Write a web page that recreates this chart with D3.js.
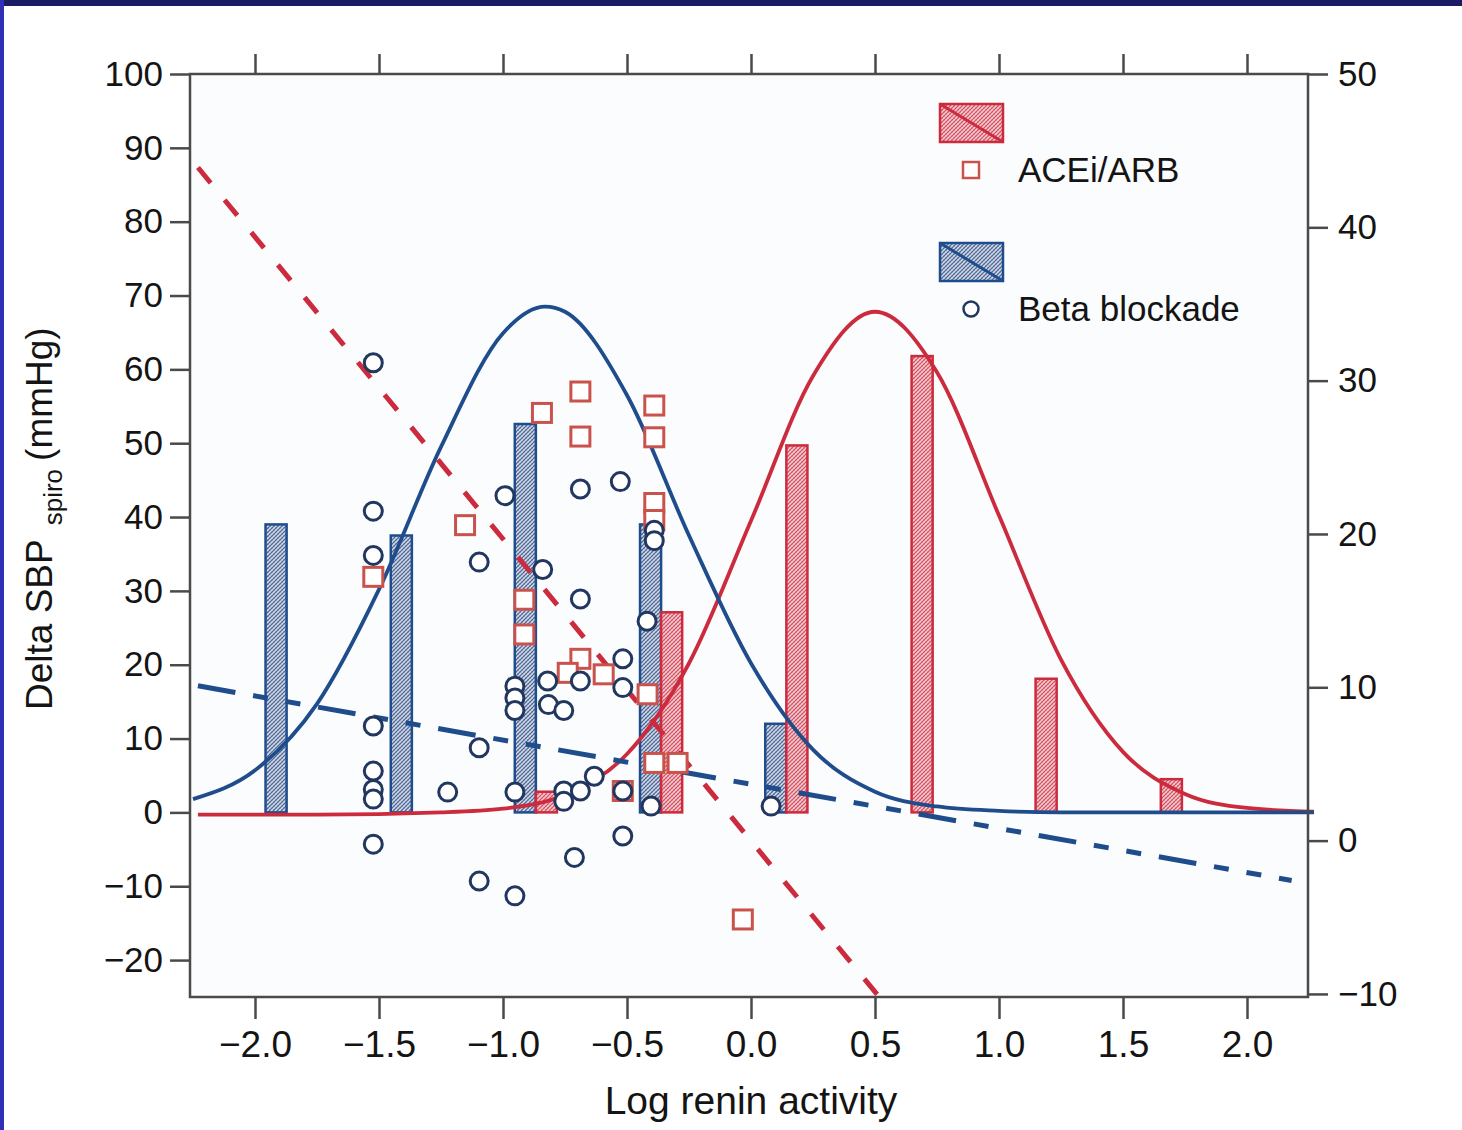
<!DOCTYPE html>
<html lang="en">
<head>
<meta charset="utf-8">
<title>Delta SBP vs log renin activity</title>
<style>
  html, body { margin: 0; padding: 0; background: #fff; }
  svg { display: block; }
  text { font-family: "Liberation Sans", Arial, sans-serif; fill: #141414; }
</style>
</head>
<body>
<svg id="chart" width="1462" height="1130"></svg>

<script src="https://d3js.org/d3.v7.min.js"></script>
<script>
// ---- data ----
const xTicks = [-2.0, -1.5, -1.0, -0.5, 0.0, 0.5, 1.0, 1.5, 2.0];
const leftTicks = [-20, -10, 0, 10, 20, 30, 40, 50, 60, 70, 80, 90, 100];
const rightTicks = [-10, 0, 10, 20, 30, 40, 50];

// histogram bars (left axis units)
const betaBarX = [-1.915, -1.41, -0.91, -0.405, 0.10];
const betaBarH = [39.0, 37.5, 52.6, 39.0, 12.0];
const aceBarX = [-0.825, -0.32, 0.185, 0.69, 1.19, 1.695];
const aceBarH = [2.8, 27.1, 49.7, 61.8, 18.1, 4.5];

// fitted distribution curves (left axis units)
const betaCurveX = [-2.25, -2.0, -1.75, -1.5, -1.25, -1.0, -0.83, -0.75, -0.5, -0.25, 0.0, 0.25, 0.5, 0.75, 1.0, 1.25, 1.5, 2.0, 2.27];
const betaCurveY = [1.8, 5.7, 14.7, 30.2, 49.5, 64.9, 68.5, 67.8, 56.5, 37.5, 20.2, 8.5, 2.8, 0.8, 0.2, 0, 0, 0, 0];
const aceCurveX = [-2.23, -1.75, -1.25, -1.0, -0.75, -0.5, -0.25, 0.0, 0.25, 0.5, 0.75, 1.0, 1.25, 1.5, 1.75, 2.0, 2.27];
const aceCurveY = [-0.3, -0.3, 0, 0.5, 2.4, 7.9, 20.2, 39.5, 59.1, 67.8, 59.6, 40.2, 20.7, 8.2, 2.5, 0.6, 0.1];

// regression lines (right axis units)
const aceFit = [[-2.23, 43.9], [0.512, -10.1]];
const betaFit = [[-2.23, 10.1], [2.18, -2.6]];

// individual patients (left axis units)
const betaPoints = [
  [-1.523, 60.9], [-1.523, 40.8], [-1.523, 34.8], [-1.523, 11.7], [-1.523, 5.6], [-1.523, 3.1], [-1.523, 1.8], [-1.523, -4.3],
  [-1.223, 2.75], [-1.096, 33.9], [-1.096, 8.75], [-1.096, -9.3], [-0.992, 42.9],
  [-0.952, 17.1], [-0.952, 15.5], [-0.952, 13.8], [-0.952, 2.75], [-0.952, -11.3],
  [-0.84, 32.9], [-0.82, 17.8], [-0.817, 14.6], [-0.755, 13.8], [-0.755, 2.9], [-0.755, 1.5],
  [-0.712, -6.1], [-0.688, 43.8], [-0.688, 28.9], [-0.688, 17.8], [-0.688, 2.9], [-0.632, 4.9],
  [-0.527, 44.8], [-0.517, 20.8], [-0.517, 16.9], [-0.517, 2.9], [-0.517, -3.2],
  [-0.419, 25.9], [-0.39, 38.2], [-0.39, 36.8], [-0.403, 0.85], [0.081, 0.85]
];
const acePoints = [
  [-1.523, 31.9], [-1.153, 38.9], [-0.843, 54.1], [-0.914, 28.8], [-0.914, 24.1],
  [-0.688, 57.0], [-0.688, 50.9], [-0.688, 20.8], [-0.739, 18.9], [-0.594, 18.7],
  [-0.39, 55.1], [-0.39, 50.8], [-0.39, 41.9], [-0.39, 39.6], [-0.417, 16.0],
  [-0.39, 6.7], [-0.296, 6.7], [-0.517, 2.9], [-0.033, -14.5]
];

const legendItems = [
  { label: "ACEi/ARB", kind: "ace" },
  { label: "Beta blockade", kind: "beta" }
];

// ---- look ----
const RED = "#cc2b3d", RED_PT = "#c9524d", BLUE = "#1f4d8c", NAVY = "#22375f", AXIS = "#4a4a4a";
const W = 1462, H = 1130;
const plot = { left: 190, right: 1308, top: 74, bottom: 997 };

const svg = d3.select("#chart");

// page border strips
svg.append("rect").attr("x", 0).attr("y", 0).attr("width", W).attr("height", 6).attr("fill", "#1b1b66");
svg.append("rect").attr("x", 0).attr("y", 0).attr("width", 4).attr("height", H).attr("fill", "#2f2fb8");

const x = d3.scaleLinear().domain([-2, 2]).range([255, 1247]);
const yL = d3.scaleLinear().domain([-25, 100]).range([plot.bottom, plot.top]);
const yR = d3.scaleLinear().domain([-10.2, 50]).range([plot.bottom, plot.top]);

// hatch patterns
const defs = svg.append("defs");
function hatch(id, bg, fg) {
  const p = defs.append("pattern").attr("id", id)
    .attr("patternUnits", "userSpaceOnUse").attr("width", 4).attr("height", 4);
  p.append("rect").attr("width", 4).attr("height", 4).attr("fill", bg);
  p.append("path").attr("d", "M-1,1 L1,-1 M0,4 L4,0 M3,5 L5,3").attr("stroke", fg).attr("stroke-width", 1.1);
  p.append("path").attr("d", "M0,0 L4,4").attr("stroke", fg).attr("stroke-width", 0.5).attr("opacity", 0.6);
}
hatch("hatchRed", "#f4cdd2", "#d24a5c");
hatch("hatchBlue", "#d3dae8", "#46608f");

// plot background
svg.append("rect").attr("x", plot.left).attr("y", plot.top)
  .attr("width", plot.right - plot.left).attr("height", plot.bottom - plot.top)
  .attr("fill", "#fbfcfe");

// ---- bars ----
const barW = x(0.085) - x(0);
svg.append("g").selectAll("rect").data(d3.zip(betaBarX, betaBarH)).join("rect")
  .attr("x", d => x(d[0]) - barW / 2).attr("width", barW)
  .attr("y", d => yL(d[1])).attr("height", d => yL(0) - yL(d[1]))
  .attr("fill", "url(#hatchBlue)").attr("stroke", BLUE).attr("stroke-width", 2.5);
svg.append("g").selectAll("rect").data(d3.zip(aceBarX, aceBarH)).join("rect")
  .attr("x", d => x(d[0]) - barW / 2).attr("width", barW)
  .attr("y", d => yL(d[1])).attr("height", d => yL(0) - yL(d[1]))
  .attr("fill", "url(#hatchRed)").attr("stroke", RED).attr("stroke-width", 2.5);

// ---- curves ----
const curve = d3.line().x(d => x(d[0])).y(d => yL(d[1])).curve(d3.curveMonotoneX);
svg.append("path").datum(d3.zip(aceCurveX, aceCurveY)).attr("d", curve)
  .attr("fill", "none").attr("stroke", RED).attr("stroke-width", 3.8);
svg.append("path").datum(d3.zip(betaCurveX, betaCurveY)).attr("d", curve)
  .attr("fill", "none").attr("stroke", BLUE).attr("stroke-width", 3.8);

// ---- regression lines ----
const fitLine = d3.line().x(d => x(d[0])).y(d => yR(d[1]));
svg.append("path").datum(betaFit).attr("d", fitLine)
  .attr("fill", "none").attr("stroke", BLUE).attr("stroke-width", 5)
  .attr("stroke-dasharray", "38,18,15,18,15,18");
svg.append("path").datum(aceFit).attr("d", fitLine)
  .attr("fill", "none").attr("stroke", RED).attr("stroke-width", 5)
  .attr("stroke-dasharray", "20,22");

// ---- points ----
const sq = 19;
svg.append("g").selectAll("rect").data(acePoints).join("rect")
  .attr("x", d => x(d[0]) - sq / 2).attr("y", d => yL(d[1]) - sq / 2)
  .attr("width", sq).attr("height", sq)
  .attr("fill", "#fff").attr("stroke", RED_PT).attr("stroke-width", 3);
svg.append("g").selectAll("circle").data(betaPoints).join("circle")
  .attr("cx", d => x(d[0])).attr("cy", d => yL(d[1])).attr("r", 9)
  .attr("fill", "#fff").attr("stroke", NAVY).attr("stroke-width", 3);

// ---- frame and axes ----
const fmt = d => (d < 0 ? "\u2212" + Math.abs(d) : d);
const fmtX = d => (d < 0 ? "\u2212" + d3.format(".1f")(Math.abs(d)) : d3.format(".1f")(d));

function styleAxis(g, size) {
  g.select(".domain").remove();
  g.selectAll(".tick line").attr("stroke", AXIS).attr("stroke-width", 2.5);
  g.selectAll(".tick text").attr("font-size", size).attr("fill", "#141414")
    .attr("font-family", "'Liberation Sans', Arial, sans-serif");
}

svg.append("g").attr("transform", `translate(${plot.left},0)`)
  .call(d3.axisLeft(yL).tickValues(leftTicks).tickSize(20).tickPadding(7).tickFormat(fmt))
  .call(g => styleAxis(g, 35));
svg.append("g").attr("transform", `translate(${plot.right},0)`)
  .call(d3.axisRight(yR).tickValues(rightTicks).tickSize(20).tickPadding(10).tickFormat(fmt))
  .call(g => styleAxis(g, 35));
svg.append("g").attr("transform", `translate(0,${plot.bottom})`)
  .call(d3.axisBottom(x).tickValues(xTicks).tickSize(22).tickPadding(12).tickFormat(fmtX))
  .call(g => styleAxis(g, 37));
svg.append("g").attr("transform", `translate(0,${plot.top})`)
  .call(d3.axisTop(x).tickValues(xTicks).tickSize(20).tickFormat(""))
  .call(g => styleAxis(g, 35));

svg.append("rect").attr("x", plot.left).attr("y", plot.top)
  .attr("width", plot.right - plot.left).attr("height", plot.bottom - plot.top)
  .attr("fill", "none").attr("stroke", AXIS).attr("stroke-width", 2.5);

// ---- axis titles ----
svg.append("text").attr("x", 751).attr("y", 1114).attr("text-anchor", "middle")
  .attr("font-size", 39).text("Log renin activity");

const yt = svg.append("text").attr("transform", "translate(52,710) rotate(-90)")
  .attr("font-size", 37);
yt.append("tspan").text("Delta SBP");
yt.append("tspan").attr("font-size", 26).attr("dx", 14).attr("dy", 10).text("spiro");
yt.append("tspan").attr("dx", 8).attr("dy", -10).text("(mmHg)");

// ---- legend ----
const leg = svg.append("g");
legendItems.forEach((item, i) => {
  const top = 104 + i * 139;
  const col = item.kind === "ace" ? RED : BLUE;
  leg.append("rect").attr("x", 940).attr("y", top).attr("width", 63).attr("height", 38)
    .attr("fill", item.kind === "ace" ? "url(#hatchRed)" : "url(#hatchBlue)")
    .attr("stroke", col).attr("stroke-width", 2.5);
  leg.append("line").attr("x1", 940).attr("y1", top).attr("x2", 1003).attr("y2", top + 38)
    .attr("stroke", col).attr("stroke-width", 3);
  const my = top + 66;
  if (item.kind === "ace") {
    leg.append("rect").attr("x", 963).attr("y", my - 8).attr("width", 16).attr("height", 16)
      .attr("fill", "#fff").attr("stroke", RED_PT).attr("stroke-width", 2.5);
  } else {
    leg.append("circle").attr("cx", 971).attr("cy", my).attr("r", 7.5)
      .attr("fill", "#fff").attr("stroke", NAVY).attr("stroke-width", 2.5);
  }
  leg.append("text").attr("x", 1018).attr("y", my + 12).attr("font-size", 35).text(item.label);
});
</script>
</body>
</html>
